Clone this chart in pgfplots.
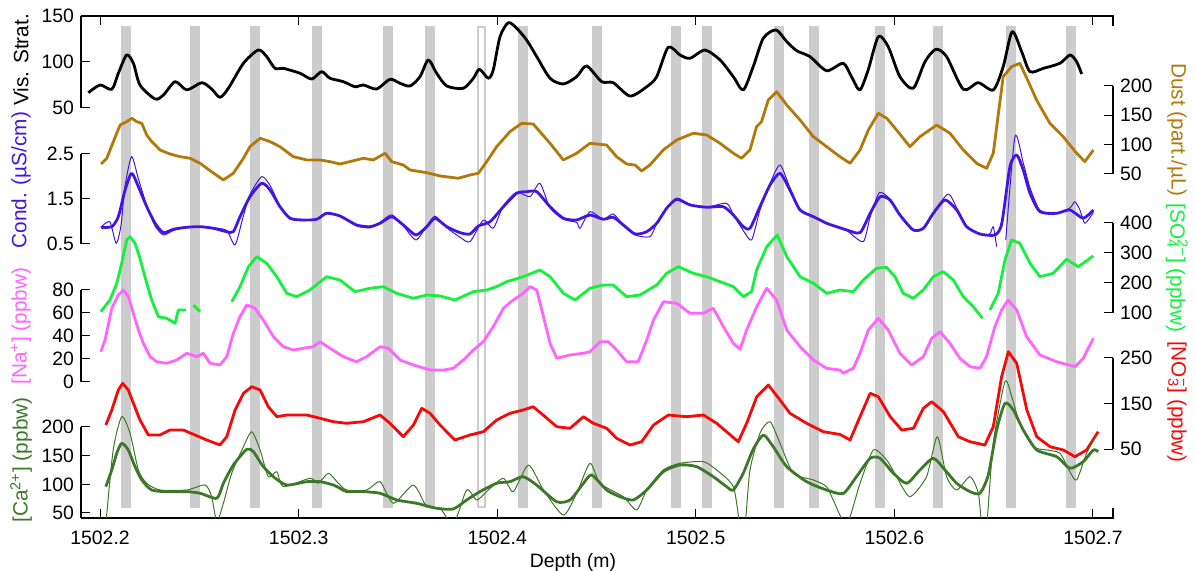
\documentclass[border=0pt]{standalone}
\usepackage{fontspec}
\setmainfont{Liberation Sans}
\usepackage{pgfplots}
\pgfplotsset{compat=1.18}

\definecolor{dust}{RGB}{178,120,10}
\definecolor{cond}{RGB}{70,20,225}
\definecolor{sulf}{RGB}{20,240,60}
\definecolor{sod}{RGB}{255,100,255}
\definecolor{nitr}{RGB}{245,10,10}
\definecolor{calc}{RGB}{60,120,40}
\definecolor{band}{RGB}{204,204,204}

\newcommand{\tfont}{\fontsize{9.7}{11}\selectfont}
\newcommand{\lfont}{\fontsize{10.4}{12}\selectfont}

% every trace gets its own full-size axis; ymin/ymax put its band in place
\pgfplotsset{
  strip/.style={
    scale only axis, width=516pt, height=251pt,
    at={(0,0)}, anchor=south west,
    xmin=1502.1904, xmax=1502.7101,
    xtick=\empty,
    axis line style={draw=none},
    tick align=inside, major tick length=4.5pt,
    tick style={black, line width=0.5pt},
    tick label style={font=\tfont},
    /pgf/number format/assume math mode=true,
    unbounded coords=jump,
    clip mode=individual,
  },
  lstrip/.style={strip, ytick pos=left, yticklabel pos=left},
  rstrip/.style={strip, ytick pos=right, yticklabel pos=right},
  fat/.style={line width=1.4pt, line join=round},
  slim/.style={line width=0.5pt, line join=round},
}

\begin{document}
\begin{tikzpicture}
\useasboundingbox (-40.5pt,-26.5pt) rectangle (557.5pt,259pt);

% frame, depth axis, shaded layers and all axis titles
\begin{axis}[strip, ymin=0, ymax=502, ytick=\empty,
  xtick={1502.2,1502.3,1502.4,1502.5,1502.6,1502.7},
  xticklabels={1502.2,1502.3,1502.4,1502.5,1502.6,1502.7},
  xtick pos=both, xticklabel pos=bottom,
  xticklabel style={anchor=center, yshift=-10pt}]
\addplot[band, line width=5pt] table {
x y
1502.2131 10
1502.2131 492
nan nan
1502.2480 10
1502.2480 492
nan nan
1502.2782 10
1502.2782 492
nan nan
1502.3091 10
1502.3091 492
nan nan
1502.3452 10
1502.3452 492
nan nan
1502.3662 10
1502.3662 492
nan nan
1502.4131 10
1502.4131 492
nan nan
1502.4501 10
1502.4501 492
nan nan
1502.4900 10
1502.4900 492
nan nan
1502.5058 10
1502.5058 492
nan nan
1502.5420 10
1502.5420 492
nan nan
1502.5597 10
1502.5597 492
nan nan
1502.5927 10
1502.5927 492
nan nan
1502.6219 10
1502.6219 492
nan nan
1502.6588 10
1502.6588 492
nan nan
1502.6889 10
1502.6889 492
};
\addplot[band, line width=1pt] table {
x y
1502.3903 11
1502.3903 491
1502.3937 491
1502.3937 11
1502.3903 11
};
\draw[line width=0.6pt] (rel axis cs:0,1) -- (rel axis cs:1,1) -- (rel axis cs:1,0.98);
\draw[line width=0.6pt] (rel axis cs:0,0) -- (rel axis cs:1,0) -- (rel axis cs:1,0.02);
\node[font=\tfont] at ([yshift=-22pt]rel axis cs:0.4767,0) {Depth (m)};
\node[rotate=90, font=\lfont, text=black] at ([xshift=-30pt]rel axis cs:0,0.9124) {Vis. Strat.};
\node[rotate=90, font=\lfont, text=cond] at ([xshift=-30pt]rel axis cs:0,0.6733) {Cond. (µS/cm)};
\node[rotate=90, font=\lfont, text=sod] at ([xshift=-30pt]rel axis cs:0,0.3825) {[Na\textsuperscript{+}] (ppbw)};
\node[rotate=90, font=\lfont, text=calc] at ([xshift=-30pt]rel axis cs:0,0.1155) {[Ca\textsuperscript{2+}] (ppbw)};
\node[rotate=-90, font=\lfont, text=dust] at ([xshift=32pt]rel axis cs:1,0.7729) {Dust (part./µL)};
\node[rotate=-90, font=\lfont, text=sulf] at ([xshift=32pt]rel axis cs:1,0.4980) {[SO\rlap{\textsubscript{4}}\textsuperscript{2−}] (ppbw)};
\node[rotate=-90, font=\lfont, text=nitr] at ([xshift=32pt]rel axis cs:1,0.2311) {[NO\rlap{\textsubscript{3}}\textsuperscript{−}] (ppbw)};
\end{axis}

% Vis. Strat.
\begin{axis}[lstrip, ymin=-395.65, ymax=150, ytick={50,100,150}, yticklabels={50,100,150}]
\addplot[black, fat, smooth, tension=0.45] table {
x y
1502.1941 66.6
1502.2000 75.0
1502.2059 70.3
1502.2092 87.7
1502.2134 107.6
1502.2168 98.6
1502.2201 75.0
1502.2277 59.8
1502.2319 64.1
1502.2378 78.6
1502.2437 69.6
1502.2512 77.5
1502.2562 70.6
1502.2604 61.6
1502.2646 71.4
1502.2722 98.6
1502.2797 113.0
1502.2839 105.8
1502.2881 93.1
1502.2923 93.1
1502.3007 87.7
1502.3066 81.5
1502.3116 89.5
1502.3158 82.3
1502.3225 78.6
1502.3284 73.1
1502.3326 75.0
1502.3393 70.6
1502.3460 81.2
1502.3511 76.8
1502.3561 73.9
1502.3611 84.0
1502.3653 102.2
1502.3695 87.7
1502.3746 73.9
1502.3829 71.4
1502.3880 82.3
1502.3910 92.1
1502.3955 82.3
1502.3980 91.3
1502.4014 127.5
1502.4056 142.7
1502.4098 136.6
1502.4148 123.9
1502.4199 105.8
1502.4266 82.3
1502.4333 76.1
1502.4400 84.0
1502.4450 95.7
1502.4526 78.6
1502.4584 77.5
1502.4669 63.0
1502.4753 73.1
1502.4803 84.0
1502.4861 116.0
1502.4920 107.6
1502.4971 104.0
1502.5046 113.0
1502.5122 102.2
1502.5189 84.0
1502.5239 69.6
1502.5289 94.9
1502.5340 125.8
1502.5404 134.8
1502.5458 122.1
1502.5508 112.3
1502.5575 105.8
1502.5659 90.5
1502.5742 98.6
1502.5784 84.0
1502.5826 69.6
1502.5868 91.3
1502.5919 127.5
1502.5969 116.6
1502.6028 84.0
1502.6095 71.4
1502.6154 100.3
1502.6209 113.8
1502.6263 105.8
1502.6347 70.3
1502.6422 77.5
1502.6498 69.6
1502.6548 94.9
1502.6593 132.9
1502.6641 111.2
1502.6683 89.5
1502.6750 93.1
1502.6834 98.6
1502.6884 107.6
1502.6918 100.3
1502.6943 87.0
};
\draw[line width=0.6pt] (axis cs:1502.1904,50) -- (axis cs:1502.1904,150);
\end{axis}

% Dust
\begin{axis}[rstrip, ymin=-536.4, ymax=319.3, ytick={50,100,150,200}, yticklabels={50,100,150,200}]
\addplot[dust, fat] table {
x y
1502.2005 67.0
1502.2034 76.8
1502.2067 105.1
1502.2101 133.5
1502.2134 139.1
1502.2160 144.9
1502.2185 139.1
1502.2210 136.4
1502.2235 116.5
1502.2260 105.1
1502.2302 90.9
1502.2352 84.1
1502.2403 79.5
1502.2453 76.8
1502.2504 68.2
1502.2554 55.6
1502.2621 39.8
1502.2671 51.2
1502.2722 76.8
1502.2755 96.5
1502.2806 110.9
1502.2856 105.1
1502.2906 96.5
1502.2973 79.5
1502.3041 73.9
1502.3108 73.9
1502.3158 71.0
1502.3208 67.0
1502.3292 73.9
1502.3326 76.8
1502.3376 73.9
1502.3435 85.3
1502.3469 71.0
1502.3527 65.3
1502.3561 56.8
1502.3645 52.2
1502.3712 46.6
1502.3804 42.7
1502.3863 48.3
1502.3905 51.2
1502.3947 71.0
1502.3997 96.5
1502.4064 122.1
1502.4123 136.4
1502.4181 135.2
1502.4215 122.1
1502.4266 102.3
1502.4333 73.9
1502.4400 85.3
1502.4467 102.3
1502.4551 99.4
1502.4601 79.5
1502.4652 67.0
1502.4694 65.3
1502.4727 55.1
1502.4769 65.3
1502.4836 90.9
1502.4904 108.0
1502.4987 119.4
1502.5055 116.5
1502.5122 102.3
1502.5189 85.3
1502.5230 76.8
1502.5273 90.9
1502.5306 130.6
1502.5331 139.1
1502.5365 176.1
1502.5407 190.3
1502.5458 167.6
1502.5525 142.0
1502.5592 113.6
1502.5659 96.5
1502.5726 79.5
1502.5777 68.2
1502.5827 90.9
1502.5869 125.0
1502.5919 153.5
1502.5962 144.9
1502.6011 125.0
1502.6078 96.5
1502.6129 113.6
1502.6213 133.5
1502.6280 119.4
1502.6347 90.9
1502.6414 68.2
1502.6465 59.7
1502.6498 85.3
1502.6548 215.9
1502.6590 232.9
1502.6632 238.7
1502.6667 213.1
1502.6716 176.1
1502.6783 136.4
1502.6850 113.6
1502.6918 85.3
1502.6959 71.0
1502.7002 90.9
};
\draw[line width=0.6pt] (axis cs:1502.7101,50) -- (axis cs:1502.7101,200);
\end{axis}

% Conductivity
\begin{axis}[lstrip, ymin=-5.5889, ymax=5.5667, ytick={0.5,1.5,2.5}, yticklabels={0.5,1.5,2.5}]
\addplot[cond, slim, smooth, tension=0.4] table {
x y
1502.2004 0.871
1502.2049 0.996
1502.2081 0.516
1502.2105 0.900
1502.2126 1.800
1502.2159 2.440
1502.2193 1.950
1502.2235 1.350
1502.2277 0.900
1502.2319 0.700
1502.2369 0.800
1502.2436 0.870
1502.2504 0.880
1502.2570 0.860
1502.2638 0.800
1502.2680 0.478
1502.2720 1.100
1502.2755 1.600
1502.2814 1.996
1502.2856 1.800
1502.2906 1.350
1502.2957 1.060
1502.3024 1.020
1502.3091 1.050
1502.3141 1.200
1502.3208 1.120
1502.3292 0.900
1502.3359 0.860
1502.3410 0.980
1502.3469 1.150
1502.3527 0.900
1502.3591 0.589
1502.3645 0.900
1502.3687 1.120
1502.3746 0.860
1502.3813 0.650
1502.3863 0.551
1502.3930 1.033
1502.3980 0.849
1502.4031 1.350
1502.4098 1.650
1502.4165 1.551
1502.4215 1.849
1502.4266 1.300
1502.4333 1.050
1502.4400 0.980
1502.4417 0.849
1502.4467 1.218
1502.4534 1.050
1502.4584 1.167
1502.4635 0.920
1502.4694 0.700
1502.4769 0.662
1502.4803 0.950
1502.4853 1.300
1502.4904 1.520
1502.4971 1.380
1502.5055 1.320
1502.5155 1.404
1502.5189 1.150
1502.5239 0.800
1502.5281 0.589
1502.5323 1.250
1502.5374 1.850
1502.5424 2.256
1502.5474 1.750
1502.5525 1.250
1502.5592 1.100
1502.5659 0.950
1502.5726 0.850
1502.5760 0.800
1502.5843 0.551
1502.5878 1.100
1502.5924 1.640
1502.5978 1.500
1502.6028 1.150
1502.6095 0.800
1502.6146 0.840
1502.6196 1.200
1502.6271 1.611
1502.6314 1.300
1502.6364 0.880
1502.6431 0.720
1502.6480 0.720
1502.6498 0.884
1502.6515 0.440
};
\addplot[cond, slim, smooth, tension=0.4] table {
x y
1502.6561 0.589
1502.6607 2.884
1502.6649 2.300
1502.6683 1.750
1502.6733 1.250
1502.6817 1.180
1502.6884 1.300
1502.6909 1.440
1502.6935 1.250
1502.6959 0.960
1502.7002 1.200
};
\addplot[cond, fat, smooth, tension=0.4] table {
x y
1502.2004 0.871
1502.2059 0.884
1502.2092 1.107
1502.2126 1.700
1502.2159 2.071
1502.2193 1.773
1502.2235 1.329
1502.2277 0.960
1502.2319 0.751
1502.2369 0.827
1502.2436 0.871
1502.2504 0.884
1502.2570 0.849
1502.2638 0.773
1502.2671 0.773
1502.2705 1.107
1502.2755 1.551
1502.2814 1.849
1502.2856 1.700
1502.2906 1.329
1502.2957 1.071
1502.3024 1.033
1502.3091 1.049
1502.3141 1.182
1502.3208 1.122
1502.3292 0.922
1502.3359 0.884
1502.3410 0.960
1502.3469 1.107
1502.3527 0.922
1502.3591 0.700
1502.3645 0.884
1502.3687 1.071
1502.3746 0.884
1502.3813 0.751
1502.3863 0.722
1502.3905 0.900
1502.3964 0.996
1502.4031 1.329
1502.4098 1.627
1502.4148 1.662
1502.4199 1.662
1502.4266 1.329
1502.4333 1.071
1502.4400 1.033
1502.4467 1.144
1502.4534 1.049
1502.4584 1.093
1502.4635 0.922
1502.4694 0.722
1502.4753 0.773
1502.4803 0.960
1502.4853 1.293
1502.4904 1.493
1502.4971 1.367
1502.5055 1.316
1502.5138 1.329
1502.5189 1.144
1502.5239 0.884
1502.5273 0.849
1502.5323 1.329
1502.5374 1.811
1502.5424 2.071
1502.5474 1.700
1502.5525 1.256
1502.5592 1.107
1502.5659 0.960
1502.5726 0.860
1502.5760 0.811
1502.5827 0.751
1502.5878 1.182
1502.5928 1.551
1502.5978 1.478
1502.6028 1.144
1502.6095 0.811
1502.6146 0.849
1502.6196 1.182
1502.6255 1.478
1502.6314 1.256
1502.6364 0.884
1502.6431 0.722
1502.6507 0.700
1502.6541 0.960
1502.6582 2.218
1502.6616 2.478
1502.6649 2.144
1502.6683 1.627
1502.6733 1.218
1502.6817 1.182
1502.6884 1.256
1502.6951 1.071
1502.7002 1.256
};
\draw[line width=0.6pt] (axis cs:1502.1904,0.5) -- (axis cs:1502.1904,2.5);
\end{axis}

% Sulfate
\begin{axis}[rstrip, ymin=-583.3, ymax=1090, ytick={100,200,300,400}, yticklabels={100,200,300,400}]
\addplot[sulf, fat] table {
x y
1502.2004 104.3
1502.2017 115.7
1502.2050 143.3
1502.2084 199.0
1502.2109 265.7
1502.2134 343.3
1502.2151 354.3
1502.2176 332.3
1502.2201 282.3
1502.2235 199.0
1502.2260 143.3
1502.2294 87.7
1502.2336 82.3
1502.2378 65.7
1502.2394 110.0
1502.2433 110.0
nan nan
1502.2470 126.7
1502.2504 104.3
nan nan
1502.2663 137.7
1502.2705 187.7
1502.2747 254.3
1502.2789 287.7
1502.2839 265.7
1502.2890 221.0
1502.2940 165.7
1502.2990 154.3
1502.3057 176.7
1502.3141 221.0
1502.3208 210.0
1502.3284 171.0
1502.3359 182.3
1502.3426 187.7
1502.3494 165.7
1502.3577 149.0
1502.3645 160.0
1502.3712 156.7
1502.3787 143.3
1502.3880 171.0
1502.3947 176.7
1502.3997 187.7
1502.4047 204.3
1502.4131 221.0
1502.4215 243.3
1502.4266 221.0
1502.4333 165.7
1502.4392 143.3
1502.4467 182.3
1502.4534 193.3
1502.4584 193.3
1502.4652 154.3
1502.4719 160.0
1502.4803 193.3
1502.4853 232.3
1502.4912 254.3
1502.4987 232.3
1502.5055 221.0
1502.5122 204.3
1502.5189 187.7
1502.5239 154.3
1502.5281 171.0
1502.5306 243.3
1502.5357 321.0
1502.5410 360.0
1502.5458 287.7
1502.5525 221.0
1502.5592 199.0
1502.5659 165.7
1502.5726 176.7
1502.5793 171.0
1502.5843 210.0
1502.5910 249.0
1502.5961 252.3
1502.6003 221.0
1502.6045 165.7
1502.6095 149.0
1502.6146 176.7
1502.6196 221.0
1502.6246 237.7
1502.6297 210.0
1502.6347 154.3
1502.6397 121.0
1502.6444 82.3
nan nan
1502.6481 110.0
1502.6523 165.7
1502.6557 276.7
1502.6590 343.3
1502.6632 332.3
1502.6683 265.7
1502.6733 221.0
1502.6800 232.3
1502.6867 279.0
1502.6926 254.3
1502.7002 290.0
};
\draw[line width=0.6pt] (axis cs:1502.7101,100) -- (axis cs:1502.7101,400);
\end{axis}

% Sodium
\begin{axis}[lstrip, ymin=-118.26, ymax=318.26, ytick={0,20,40,60,80}, yticklabels={0,20,40,60,80}]
\addplot[sod, fat] table {
x y
1502.2004 26.3
1502.2025 36.5
1502.2059 64.1
1502.2092 75.7
1502.2117 80.0
1502.2143 74.2
1502.2168 59.7
1502.2193 45.2
1502.2218 33.6
1502.2252 22.0
1502.2285 17.6
1502.2336 16.3
1502.2386 19.1
1502.2437 25.0
1502.2487 22.0
1502.2520 25.0
1502.2554 16.3
1502.2604 14.8
1502.2638 22.0
1502.2671 42.3
1502.2705 56.8
1502.2739 67.0
1502.2780 64.1
1502.2822 53.9
1502.2873 39.4
1502.2923 30.7
1502.2973 27.8
1502.3024 29.3
1502.3074 30.7
1502.3108 35.0
1502.3158 29.3
1502.3225 22.0
1502.3292 17.6
1502.3342 22.0
1502.3410 30.7
1502.3452 29.3
1502.3511 19.1
1502.3578 14.8
1502.3662 10.4
1502.3729 10.4
1502.3779 11.9
1502.3829 19.1
1502.3880 27.8
1502.3930 35.0
1502.3980 48.1
1502.4031 64.1
1502.4081 71.3
1502.4131 77.1
1502.4165 82.9
1502.4199 80.0
1502.4233 56.8
1502.4266 33.6
1502.4300 20.6
1502.4367 23.5
1502.4434 25.0
1502.4467 26.3
1502.4518 35.0
1502.4559 35.0
1502.4601 27.8
1502.4652 17.6
1502.4710 17.6
1502.4753 36.5
1502.4787 53.9
1502.4837 69.8
1502.4904 68.4
1502.4971 59.7
1502.5038 59.7
1502.5088 64.1
1502.5139 48.1
1502.5189 33.6
1502.5223 28.4
1502.5256 45.2
1502.5307 65.5
1502.5357 81.5
1502.5407 71.3
1502.5458 45.2
1502.5525 30.7
1502.5592 19.1
1502.5659 11.9
1502.5726 10.4
1502.5743 7.6
1502.5793 11.9
1502.5827 25.0
1502.5869 45.2
1502.5919 55.4
1502.5969 45.2
1502.6028 25.0
1502.6087 14.8
1502.6146 22.0
1502.6188 38.0
1502.6230 43.7
1502.6280 33.6
1502.6330 20.6
1502.6381 13.3
1502.6431 11.9
1502.6464 22.0
1502.6506 48.1
1502.6540 62.6
1502.6573 71.3
1502.6616 62.6
1502.6666 39.4
1502.6733 23.5
1502.6817 17.6
1502.6909 13.3
1502.6951 20.6
1502.7002 38.0
};
\draw[line width=0.6pt] (axis cs:1502.1904,0) -- (axis cs:1502.1904,80);
\end{axis}

% Nitrate
\begin{axis}[rstrip, ymin=-101.6, ymax=1001.6, ytick={50,150,250}, yticklabels={50,150,250}]
\addplot[nitr, fat] table {
x y
1502.2029 102.7
1502.2059 135.7
1502.2092 179.7
1502.2114 194.4
1502.2142 179.7
1502.2168 150.4
1502.2201 113.7
1502.2243 80.8
1502.2302 80.8
1502.2352 91.7
1502.2419 91.7
1502.2478 80.8
1502.2537 69.8
1502.2604 58.8
1502.2638 77.0
1502.2680 135.7
1502.2722 172.4
1502.2764 186.9
1502.2806 179.7
1502.2847 143.0
1502.2890 121.0
1502.2940 124.7
1502.3041 124.7
1502.3108 117.5
1502.3175 110.0
1502.3242 106.5
1502.3326 110.0
1502.3410 124.7
1502.3460 106.5
1502.3527 77.0
1502.3578 102.7
1502.3620 139.4
1502.3662 128.5
1502.3712 102.7
1502.3787 69.8
1502.3863 80.8
1502.3930 88.0
1502.3997 113.7
1502.4064 128.5
1502.4131 135.7
1502.4181 143.0
1502.4231 124.7
1502.4300 99.0
1502.4367 95.5
1502.4434 121.0
1502.4484 106.5
1502.4551 95.5
1502.4601 73.5
1502.4669 58.8
1502.4727 66.0
1502.4787 102.7
1502.4862 124.7
1502.4954 121.0
1502.5038 124.7
1502.5105 106.5
1502.5164 84.5
1502.5214 66.0
1502.5256 106.5
1502.5307 164.9
1502.5365 190.7
1502.5424 157.7
1502.5474 128.5
1502.5558 106.5
1502.5642 88.0
1502.5726 82.0
1502.5777 69.8
1502.5827 121.0
1502.5878 172.4
1502.5919 164.9
1502.5979 121.0
1502.6037 91.7
1502.6096 95.5
1502.6146 139.4
1502.6188 154.0
1502.6247 132.0
1502.6322 77.0
1502.6381 66.0
1502.6456 58.8
1502.6498 99.0
1502.6540 208.9
1502.6574 263.8
1502.6616 238.4
1502.6667 135.7
1502.6717 77.0
1502.6784 55.0
1502.6851 47.8
1502.6909 33.1
1502.6968 47.8
1502.7026 88.0
};
\draw[line width=0.6pt] (axis cs:1502.7101,50) -- (axis cs:1502.7101,250);
\end{axis}

% Calcium
\begin{axis}[lstrip, ymin=41.28, ymax=916.9, ytick={50,100,150,200}, yticklabels={50,100,150,200}]
\addplot[calc, slim, smooth, tension=0.4] table {
x y
1502.2029 30
1502.2066 159.9
1502.2109 218.0
1502.2151 189.0
1502.2193 125.0
1502.2235 101.8
1502.2302 90.1
1502.2437 90.1
1502.2529 98.8
1502.2562 78.4
1502.2588 35
1502.2621 66.9
1502.2663 119.3
1502.2722 165.6
1502.2764 191.8
1502.2806 159.9
1502.2847 113.3
1502.2890 122.0
1502.2923 95.9
1502.3057 110.5
1502.3099 101.8
1502.3150 119.3
1502.3200 101.8
1502.3242 90.1
1502.3343 90.1
1502.3410 104.6
1502.3477 66.9
1502.3578 98.8
1502.3645 61.0
1502.3712 58.2
1502.3779 30
1502.3846 90.1
1502.3897 72.7
1502.3955 90.1
1502.4031 110.5
1502.4081 87.2
1502.4157 133.7
1502.4233 90.1
1502.4333 46.5
1502.4400 84.4
1502.4467 136.7
1502.4518 101.8
1502.4635 78.4
1502.4702 55.2
1502.4753 90.1
1502.4836 125.0
1502.4920 136.7
1502.5038 139.5
1502.5105 125.0
1502.5189 95.9
1502.5222 30
1502.5248 30
1502.5273 125.0
1502.5323 189.0
1502.5374 209.2
1502.5424 171.6
1502.5491 119.3
1502.5592 107.6
1502.5659 95.9
1502.5692 72.7
1502.5759 30
1502.5827 101.8
1502.5894 159.9
1502.5961 142.4
1502.6011 113.3
1502.6078 78.4
1502.6162 113.3
1502.6216 183.1
1502.6263 113.3
1502.6314 90.1
1502.6381 113.3
1502.6423 84.4
1502.6440 30
1502.6465 30
1502.6498 171.6
1502.6557 279.0
1502.6591 252.8
1502.6632 206.5
1502.6699 165.6
1502.6767 159.9
1502.6834 154.1
1502.6884 122.0
1502.6918 107.6
1502.6968 154.1
1502.7018 186.0
};
\addplot[calc, fat, smooth, tension=0.4] table {
x y
1502.2029 95.9
1502.2059 125.0
1502.2084 154.1
1502.2109 171.6
1502.2142 159.9
1502.2176 130.8
1502.2210 107.6
1502.2260 90.1
1502.2335 87.2
1502.2437 87.2
1502.2504 84.4
1502.2588 75.7
1502.2621 101.8
1502.2671 133.7
1502.2739 161.1
1502.2772 156.9
1502.2822 130.8
1502.2873 113.3
1502.2940 98.8
1502.3040 104.6
1502.3108 104.6
1502.3175 98.8
1502.3208 93.1
1502.3242 87.2
1502.3326 87.2
1502.3410 84.4
1502.3494 72.7
1502.3594 66.9
1502.3695 58.2
1502.3779 57.0
1502.3846 72.7
1502.3913 87.2
1502.3997 101.8
1502.4064 104.6
1502.4131 113.3
1502.4198 98.8
1502.4299 69.7
1502.4367 72.7
1502.4434 101.8
1502.4476 116.3
1502.4551 90.1
1502.4618 78.4
1502.4685 72.7
1502.4753 90.1
1502.4836 122.0
1502.4920 133.7
1502.5004 130.8
1502.5088 113.3
1502.5155 95.9
1502.5189 90.1
1502.5239 119.3
1502.5289 161.1
1502.5340 186.0
1502.5390 165.6
1502.5458 130.8
1502.5558 104.6
1502.5659 90.1
1502.5742 84.0
1502.5809 113.3
1502.5878 145.4
1502.5928 145.4
1502.5995 119.3
1502.6062 101.8
1502.6129 125.0
1502.6196 145.4
1502.6255 125.0
1502.6314 101.8
1502.6381 87.2
1502.6431 84.4
1502.6473 116.3
1502.6515 194.8
1502.6557 241.3
1502.6599 229.6
1502.6649 194.8
1502.6717 159.9
1502.6817 148.2
1502.6884 128.0
1502.6951 139.5
1502.7002 159.9
1502.7026 156.9
};
\draw[line width=0.6pt] (axis cs:1502.1904,41.28) -- (axis cs:1502.1904,200);
\end{axis}
\end{tikzpicture}
\end{document}
